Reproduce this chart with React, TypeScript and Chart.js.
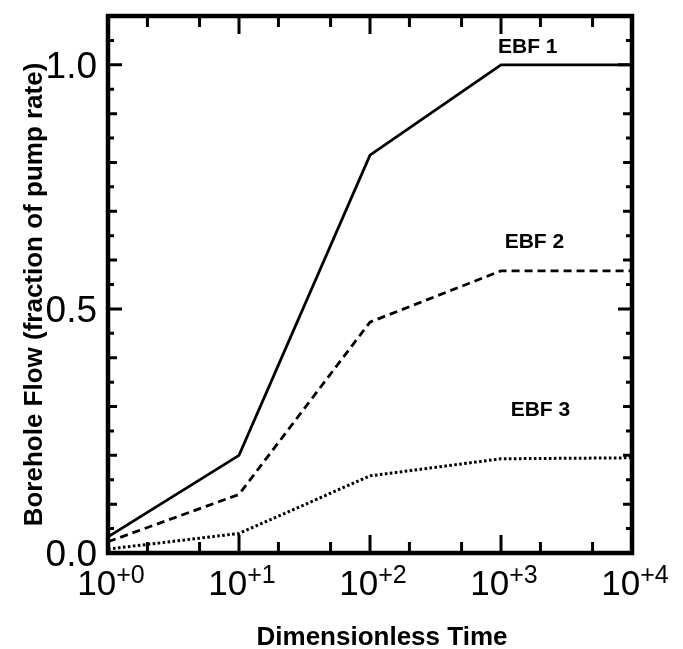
import React, { useEffect, useRef } from "react";
import { Chart, registerables } from "chart.js";

Chart.register(...registerables);

// ---- data ----
const dimensionlessTime = [1, 10, 100, 1000, 10000];
const ebf1 = [0.033, 0.2, 0.815, 1.0, 1.0];
const ebf2 = [0.023, 0.12, 0.473, 0.578, 0.578];
const ebf3 = [0.008, 0.04, 0.158, 0.193, 0.195];
const seriesNames = ["EBF 1", "EBF 2", "EBF 3"];
const xTickExponents = [0, 1, 2, 3, 4];
const xMinorMultipliers = [2, 5];
const yTickLabels = ["0.0", "0.5", "1.0"];
const yTickValues = [0, 0.5, 1.0];
const xTitle = "Dimensionless Time";
const yTitle = "Borehole Flow (fraction of pump rate)";

const FONT = "'Liberation Sans', Arial, Helvetica, sans-serif";

// label anchors in data space (x value, y value)
const seriesLabelAnchors = [
  { x: 1600, y: 1.025 },
  { x: 1800, y: 0.625 },
  { x: 2000, y: 0.28 },
];

const framePlugin = {
  id: "framePlugin",
  afterDatasetsDraw(chart: any) {
    const { ctx, chartArea } = chart;
    const xs = chart.scales.x;
    const ys = chart.scales.y;
    const { left, right, top, bottom } = chartArea;
    ctx.save();
    ctx.strokeStyle = "#000";
    ctx.fillStyle = "#000";

    // frame
    ctx.lineWidth = 4.5;
    ctx.lineJoin = "miter";
    ctx.strokeRect(left, top, right - left, bottom - top);

    // x ticks (bottom and top)
    ctx.lineWidth = 3;
    const drawXTick = (v: number, len: number) => {
      const px = xs.getPixelForValue(v);
      ctx.beginPath();
      ctx.moveTo(px, bottom);
      ctx.lineTo(px, bottom - len);
      ctx.moveTo(px, top);
      ctx.lineTo(px, top + len);
      ctx.stroke();
    };
    xTickExponents.forEach((e) => {
      const d = Math.pow(10, e);
      drawXTick(d, 18);
      if (e < xTickExponents[xTickExponents.length - 1]) {
        xMinorMultipliers.forEach((m) => drawXTick(m * d, 11));
      }
    });

    // y ticks (left and right) every 0.05
    const yMax = ys.max;
    for (let i = 0; i * 0.05 <= yMax + 1e-9; i++) {
      const v = i * 0.05;
      const py = ys.getPixelForValue(v);
      let len = 6;
      if (i % 10 === 0) len = 14;
      else if (i % 2 === 0) len = 9;
      ctx.beginPath();
      ctx.moveTo(left, py);
      ctx.lineTo(left + len, py);
      ctx.moveTo(right, py);
      ctx.lineTo(right - len, py);
      ctx.stroke();
    }

    // y tick labels
    ctx.font = `37px ${FONT}`;
    ctx.textAlign = "right";
    ctx.textBaseline = "alphabetic";
    yTickValues.forEach((v, i) => {
      const py = ys.getPixelForValue(v);
      ctx.fillText(yTickLabels[i], left - 11, py + 13);
    });

    // x tick labels with superscript
    xTickExponents.forEach((e) => {
      const px = xs.getPixelForValue(Math.pow(10, e));
      const base = "10";
      const sup = "+" + e;
      ctx.font = `35px ${FONT}`;
      const wb = ctx.measureText(base).width;
      ctx.font = `25px ${FONT}`;
      const ws = ctx.measureText(sup).width;
      const start = px - (wb + ws) / 2 + 3;
      ctx.textAlign = "left";
      ctx.font = `35px ${FONT}`;
      ctx.fillText(base, start, bottom + 42);
      ctx.font = `25px ${FONT}`;
      ctx.fillText(sup, start + wb, bottom + 30);
    });

    // series labels
    ctx.font = `bold 21px ${FONT}`;
    ctx.textAlign = "center";
    seriesLabelAnchors.forEach((a, i) => {
      ctx.fillText(seriesNames[i], xs.getPixelForValue(a.x), ys.getPixelForValue(a.y));
    });

    // axis titles
    ctx.font = `bold 26px ${FONT}`;
    ctx.textAlign = "center";
    ctx.fillText(xTitle, (left + right) / 2 + 12, bottom + 92);

    ctx.save();
    ctx.translate(42, (top + bottom) / 2 + 10);
    ctx.rotate(-Math.PI / 2);
    ctx.fillText(yTitle, 0, 0);
    ctx.restore();

    ctx.restore();
  },
};

export default function App() {
  const canvasRef = useRef<HTMLCanvasElement | null>(null);

  useEffect(() => {
    if (!canvasRef.current) return;
    const mk = (vals: number[]) => dimensionlessTime.map((x, i) => ({ x, y: vals[i] }));
    const chart = new Chart(canvasRef.current, {
      type: "line",
      data: {
        datasets: [
          {
            label: seriesNames[0],
            data: mk(ebf1),
            borderColor: "#000",
            borderWidth: 2.8,
            pointRadius: 0,
            tension: 0,
          },
          {
            label: seriesNames[1],
            data: mk(ebf2),
            borderColor: "#000",
            borderWidth: 2.8,
            borderDash: [8, 5],
            pointRadius: 0,
            tension: 0,
          },
          {
            label: seriesNames[2],
            data: mk(ebf3),
            borderColor: "#000",
            borderWidth: 3,
            borderDash: [2.6, 2.4],
            pointRadius: 0,
            tension: 0,
          },
        ],
      },
      options: {
        animation: false,
        responsive: true,
        maintainAspectRatio: false,
        layout: { padding: { left: 108, right: 51, top: 16, bottom: 96 } },
        plugins: {
          legend: { display: false },
          tooltip: { enabled: false },
        },
        scales: {
          x: { type: "logarithmic", min: 1, max: 10000, display: false },
          y: { type: "linear", min: 0, max: 1.1, display: false },
        },
      },
      plugins: [framePlugin],
    });
    return () => chart.destroy();
  }, []);

  return (
    <div style={{ position: "absolute", left: 0, top: 0, width: 683, height: 649, background: "#fff" }}>
      <canvas ref={canvasRef} />
    </div>
  );
}
